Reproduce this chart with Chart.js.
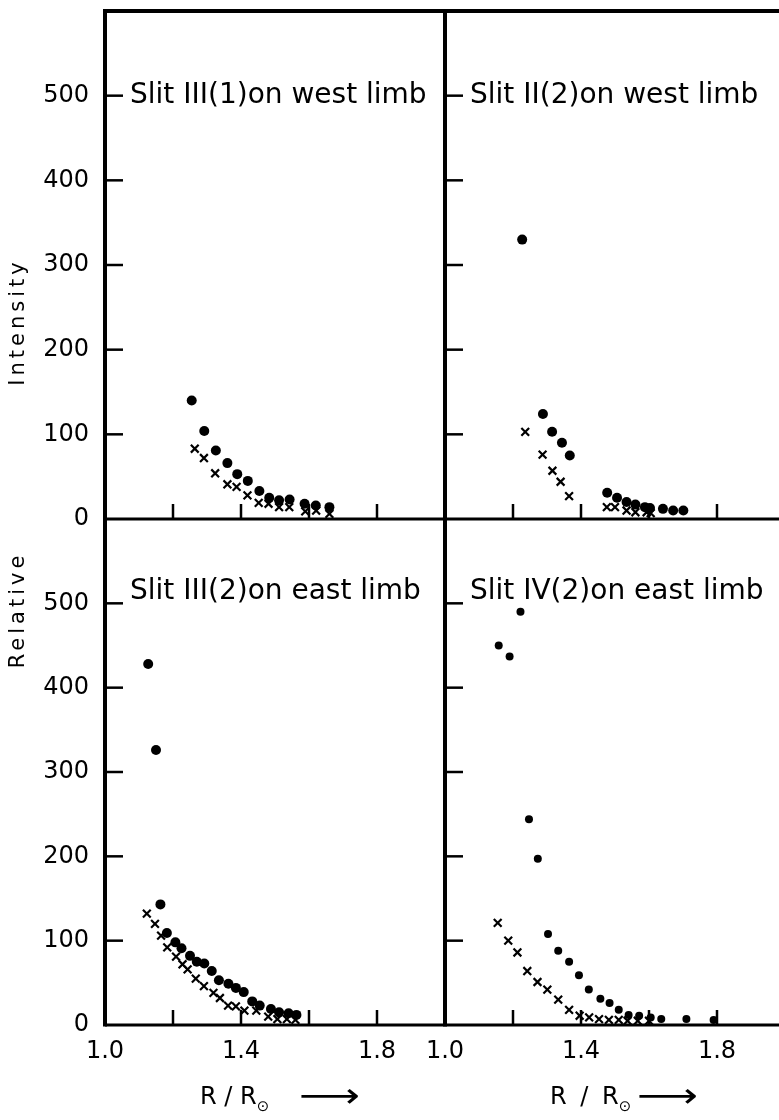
<!DOCTYPE html>
<html>
<head>
<meta charset="utf-8">
<script src="https://cdn.jsdelivr.net/npm/chart.js@4.4.1/dist/chart.umd.min.js"></script>
<style>
  html, body { margin: 0; padding: 0; background: #fff; }
  body { position: relative; width: 779px; height: 1120px; overflow: hidden; font-family: "DejaVu Sans", sans-serif; color: #000; }
  canvas { position: absolute; }
  .ytitle { position: absolute; font-size: 21px; letter-spacing: 4px; white-space: nowrap; transform: translate(-50%, -50%) rotate(-90deg); }
  .xtitle { position: absolute; top: 1080px; font-size: 24px; white-space: nowrap; line-height: 30px; }
  .xtitle sub { font-size: 15px; vertical-align: -7px; }
  .xtitle .arr { display: inline-block; font-size: 34px; vertical-align: -3px; transform: scaleX(1.25); transform-origin: left center; }
</style>
</head>
<body>
<canvas id="tl" width="445" height="545" style="left:0;top:0"></canvas>
<canvas id="tr" width="380" height="545" style="left:405px;top:0"></canvas>
<canvas id="bl" width="445" height="620" style="left:0;top:500px"></canvas>
<canvas id="br" width="380" height="620" style="left:405px;top:500px"></canvas>

<div class="ytitle" style="left:17px;top:322px">Intensity</div>
<div class="ytitle" style="left:17px;top:610px">Relative</div>
<div class="xtitle" style="left:200px">R / R<sub>⊙</sub><span class="arr" style="margin-left:30px">⟶</span></div>
<div class="xtitle" style="left:550px;word-spacing:6px">R / R<sub>⊙</sub><span class="arr" style="margin-left:6px">⟶</span></div>

<script>
// --- data (R/Ro, relative intensity) ---
// slit III(1), west limb
const tlDotX = [1.255, 1.292, 1.326, 1.36, 1.389, 1.42, 1.454, 1.483, 1.512, 1.543, 1.587, 1.62, 1.66];
const tlDotY = [140, 104, 81, 66, 53, 45, 33, 25, 22, 23, 18, 16, 14];
const tlCrossX = [1.264, 1.291, 1.324, 1.36, 1.387, 1.419, 1.452, 1.481, 1.512, 1.542, 1.589, 1.621, 1.66];
const tlCrossY = [83, 72, 54, 41, 38, 28, 19, 18, 14, 14, 9, 10, 6];

// slit II(2), west limb
const trDotX = [1.227, 1.288, 1.315, 1.344, 1.367, 1.477, 1.506, 1.534, 1.56, 1.588, 1.603, 1.641, 1.671, 1.701];
const trDotY = [330, 124, 103, 90, 75, 31, 25, 20, 17, 14, 13, 12, 10, 10];
const trCrossX = [1.236, 1.287, 1.316, 1.34, 1.365, 1.476, 1.5, 1.534, 1.56, 1.593, 1.605];
const trCrossY = [103, 76, 57, 44, 27, 14, 14, 10, 8, 8, 7];

// slit III(2), east limb
const blDotX = [1.127, 1.15, 1.163, 1.182, 1.207, 1.225, 1.25, 1.27, 1.292, 1.314, 1.335, 1.363, 1.385, 1.408, 1.433, 1.455, 1.488, 1.512, 1.54, 1.563];
const blDotY = [428, 326, 143, 109, 98, 91, 82, 75, 73, 64, 53, 49, 44, 39, 28, 23, 19, 15, 14, 12];
const blCrossX = [1.123, 1.147, 1.165, 1.183, 1.209, 1.228, 1.243, 1.267, 1.291, 1.319, 1.338, 1.362, 1.385, 1.41, 1.445, 1.48, 1.507, 1.535, 1.56];
const blCrossY = [132, 120, 106, 92, 81, 72, 66, 55, 46, 38, 32, 23, 22, 17, 17, 10, 7, 7, 6];

// slit IV(2), east limb
const brDotX = [1.158, 1.19, 1.222, 1.247, 1.273, 1.303, 1.333, 1.365, 1.394, 1.423, 1.457, 1.484, 1.511, 1.54, 1.571, 1.605, 1.636, 1.71, 1.79];
const brDotY = [450, 437, 490, 244, 197, 108, 88, 75, 59, 42, 31, 26, 18, 12, 11, 9, 7, 7, 6];
const brCrossX = [1.155, 1.186, 1.213, 1.242, 1.272, 1.301, 1.333, 1.365, 1.396, 1.424, 1.453, 1.482, 1.511, 1.537, 1.567, 1.6];
const brCrossY = [121, 100, 86, 64, 51, 42, 30, 18, 11, 9, 7, 6, 6, 5, 5, 5];

// axis ticks
const yLabelVals = [0, 100, 200, 300, 400, 500];
const yTickMarks = [100, 200, 300, 400, 500];
const xLabelVals = [1.0, 1.4, 1.8];
const xTickMarks = [1.2, 1.4, 1.6, 1.8];

const panelTitles = {
    tl: 'Slit III(1)on west limb',
    tr: 'Slit II(2)on west limb',
    bl: 'Slit III(2)on east limb',
    br: 'Slit IV(2)on east limb'
};

const toPts = (xs, ys) => xs.map((x, i) => ({ x: x, y: ys[i] }));
const FONT = '"DejaVu Sans", sans-serif';

// axes lines, inward tick marks and panel title
const panelDecor = {
    id: 'panelDecor',
    beforeDatasetsDraw(chart, args, opts) {
        const { ctx, chartArea: a, scales: { x, y } } = chart;
        ctx.save();
        ctx.strokeStyle = '#000';
        const line = (x1, y1, x2, y2) => { ctx.beginPath(); ctx.moveTo(x1, y1); ctx.lineTo(x2, y2); ctx.stroke(); };

        ctx.lineWidth = 2.5;
        yTickMarks.forEach(v => { const py = y.getPixelForValue(v); line(a.left, py, a.left + 18, py); });
        xTickMarks.forEach(v => { const px = x.getPixelForValue(v); line(px, a.bottom, px, a.bottom - 15); });

        ctx.lineWidth = 4;
        line(a.left, opts.top ? a.top - 2 : a.top, a.left, a.bottom + 1.5);
        ctx.lineWidth = 3;
        line(a.left, a.bottom, a.right, a.bottom);
        if (opts.top) {
            ctx.lineWidth = 4;
            line(a.left - 2, a.top, a.right, a.top);
        }

        ctx.fillStyle = '#000';
        ctx.font = '28px ' + FONT;
        ctx.textBaseline = 'middle';
        ctx.fillText(opts.title, a.left + 25, y.getPixelForValue(500) + opts.titleDy);
        ctx.restore();
    }
};

// keep the plot area exactly where the padding puts it
const noEdgePad = s => { s.paddingTop = 0; s.paddingBottom = 0; s.paddingLeft = 0; s.paddingRight = 0; };

function makePanel(id, dotX, dotY, crossX, crossY, cfg) {
    const dotR = cfg.dotR || 5;
    new Chart(document.getElementById(id), {
        type: 'scatter',
        data: {
            datasets: [
                { data: toPts(dotX, dotY), pointStyle: 'circle', pointRadius: dotR, backgroundColor: '#000', borderColor: '#000', borderWidth: 0, clip: false },
                { data: toPts(crossX, crossY), pointStyle: 'crossRot', pointRadius: 5.5, borderColor: '#000', borderWidth: 2.2, clip: false }
            ]
        },
        options: {
            responsive: false,
            animation: false,
            events: [],
            layout: { autoPadding: false, padding: { top: cfg.padTop, bottom: cfg.padBottom, left: 0, right: 0 } },
            plugins: {
                legend: { display: false },
                tooltip: { enabled: false },
                panelDecor: { title: panelTitles[id], top: cfg.top, titleDy: cfg.titleDy }
            },
            scales: {
                x: {
                    type: 'linear', min: 1.0, max: 2.0,
                    display: cfg.xLabels,
                    grid: { display: false }, border: { display: false },
                    afterBuildTicks: s => { s.ticks = xLabelVals.map(v => ({ value: v })); },
                    afterFit: s => { s.height = cfg.xLabels ? 95 : 0; noEdgePad(s); },
                    ticks: { color: '#000', font: { family: FONT, size: 24 }, padding: 4, maxRotation: 0, autoSkip: false, callback: v => v.toFixed(1) }
                },
                y: {
                    type: 'linear', min: 0, max: 600,
                    grid: { display: false }, border: { display: false },
                    afterBuildTicks: s => { s.ticks = yLabelVals.map(v => ({ value: v })); },
                    afterFit: s => { s.width = cfg.yWidth; noEdgePad(s); },
                    ticks: { display: cfg.yLabels, color: '#000', font: { family: FONT, size: 24 }, padding: 8 }
                }
            }
        },
        plugins: [panelDecor]
    });
}

makePanel('tl', tlDotX, tlDotY, tlCrossX, tlCrossY, { top: true, xLabels: false, yLabels: true, yWidth: 105, padTop: 11, padBottom: 26, titleDy: 0 });
makePanel('tr', trDotX, trDotY, trCrossX, trCrossY, { top: true, xLabels: false, yLabels: false, yWidth: 40, padTop: 11, padBottom: 26, titleDy: 0 });
makePanel('bl', blDotX, blDotY, blCrossX, blCrossY, { top: false, xLabels: true, yLabels: true, yWidth: 105, padTop: 19, padBottom: 0, titleDy: -12 });
makePanel('br', brDotX, brDotY, brCrossX, brCrossY, { top: false, xLabels: true, yLabels: false, yWidth: 40, padTop: 19, padBottom: 0, titleDy: -12, dotR: 4 });
</script>
</body>
</html>
